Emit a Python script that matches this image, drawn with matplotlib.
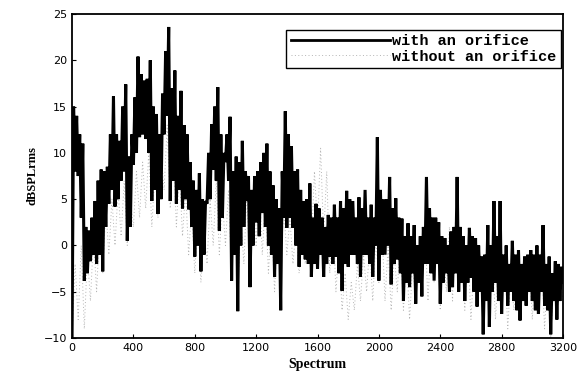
import numpy as np
import matplotlib
matplotlib.use('Agg')
import matplotlib.pyplot as plt

# frequency grid (Hz) for the solid trace, one value every 10 Hz
freq_with = np.arange(0, 3201, 10)
# frequency grid (Hz) for the dotted trace, one value every 20 Hz
freq_without = np.arange(0, 3201, 20)

# with an orifice (dBSPLrms)
with_orifice = [
    -10, 15, 8, 14, 7.5, 12, 3, 11, -3.8, 2, -3, 1.6, -1.7, 3, -1, 4.8,
    -2, 7, -1, 8.2, -2.8, 8, 2, 8.5, 4.5, 12, 6, 16.1, 4.2, 12, 5, 11.3,
    7, 15, 8, 17.4, 0.5, 9.6, 2, 12, 8.7, 16, 10, 20.4, 11.7, 18.5, 12, 17.8,
    11.5, 18, 10, 20, 4.8, 15, 6, 14.2, 3.4, 12, 5, 16.4, 12, 21, 14, 23.6,
    4.8, 17, 7, 18.9, 4.5, 14, 6, 16.7, 4, 13, 5, 12, 3.9, 9, 2, 7,
    -1.2, 6, 0, 7.8, -2.8, 5, -1, 4.8, 4.5, 10, 5, 13.1, 8.2, 15, 7, 17.1,
    1.6, 12, 3, 10, 9, 12, 7, 13.9, -3.8, 8, -1, 9.6, -7.1, 9, 0, 11.3,
    2, 8, 4.8, 7.5, -4.5, 6, 0, 7.5, 2.5, 8, 1, 9, 3.5, 10, 2, 11,
    0, 8, -1, 6.5, -3.4, 5, -2, 4, -7, 8, 3, 14.5, 1.9, 12, 3, 10.7,
    1.9, 8, 0, 8.2, -2.3, 6, -1, 4.8, -1.5, 5, -2, 6.7, -3.4, 3, -2, 4.5,
    -2.5, 4, -1, 3, -3.4, 2, -2, 3.3, -1.2, 3, -2, 4.4, -1.2, 3, -3, 4.8,
    -4.9, 4, -2, 5.9, -2.3, 5, -1, 4.8, -1, 3, -2, 5.2, -3.4, 4, -1, 6,
    -1, 3, -2, 4.4, -3.4, 3, 0, 11.7, -3.8, 6, -1, 5, -1, 5, 0, 7.4,
    -4.2, 4, -2, 5.1, -1.5, 3, -3, 2.9, -6, 1, -4, 2.4, -4.5, 1, -3, 2.2,
    -6.3, 0, -4, 1, -5.5, 2, -2, 7.4, -2, 4, -3, 3, -3.8, 3, -2, 2.5,
    -6.3, 1, -4, 0.8, -3, 0, -5, 1.5, -4.5, 2, -3, 7.4, -5, 2, -4, 1,
    -6, 0, -4, 1.9, -3.5, 1, -5, 0.8, -6.6, 0, -5, -1.2, -9.6, -1, -6, 2.2,
    -8.8, 0, -5, 4.8, -4, 1, -6, 4.8, -7.4, -1, -5, 0, -6.5, -2, -5, 0.5,
    -6, -1, -7, -0.5, -8.1, -2, -6, -1.2, -6.5, -1, -5, -0.5, -6, -1, -7, 0,
    -7.4, -1, -5, 2.2, -6.5, -2, -7, -1.2, -9.6, -3, -6, -1.7, -8, -2, -6, -2.3,
    -4,
]

# without an orifice (dBSPLrms)
without_orifice = [
    -10, -2, -8, 0, -9, -1, -6, 1, -5, 2,
    -3, 4, -1, 5, 0, 6, 1, 7, 0, 5,
    2, 8, 3, 9, 4, 10, 2, 8, 3, 10,
    6, 13, 4, 11, 2, 8, 1, 6, -1, 4,
    -3, 3, -4, 2, -2, 5, 0, 7, -1, 5,
    0, 6, -3, 4, -5, 3, -2, 6, -4, 5,
    0, 7, -1, 5, -3, 3, -5, 2, -2, 4,
    -1, 3, -2, 2, -3, 1, -2, 4, 0, 8,
    2, 10.5, 1, 8, -3, 3, -5, 0, -7, -3,
    -8, -4, -7, -2, -6, -1, -5, 0, -6, 1,
    -4, 2, -6, 0, -7, -1, -5, 1, -7, -1,
    -8, -2, -6, 0, -5, 2, -6, 1, -4, 3,
    -7, 0, -5, 2, -6, 3, -4, 1, -7, 0,
    -8, -2, -6, -1, -9, -3, -7, -1, -8, -2,
    -6, -1, -9, -3, -7, -2, -8, -3, -6, -1,
    -8, -2, -7, -1, -9, -3, -10, -4, -8, -3,
    -6,
]

xticks = [0, 400, 800, 1200, 1600, 2000, 2400, 2800, 3200]
yticks = [-10, -5, 0, 5, 10, 15, 20, 25]

fig = plt.figure(figsize=(5.81, 3.89), dpi=100)
ax = fig.add_axes([0.124, 0.131, 0.845, 0.833])

ax.plot(freq_without, without_orifice, color='#b4b4b4', lw=0.7, ls=(0, (1, 2.5)),
        label='without an orifice')
ax.plot(freq_with, with_orifice, color='black', lw=2.2, solid_joinstyle='miter',
        label='with an orifice')

ax.set_xlim(0, 3200)
ax.set_ylim(-10, 25)
ax.set_xticks(xticks)
ax.set_yticks(yticks)
ax.tick_params(direction='in', length=3, labelsize=8, width=0.8)
for s in ax.spines.values():
    s.set_linewidth(1.3)

ax.set_xlabel('Spectrum', fontfamily='Liberation Serif', fontweight='bold', fontsize=10)
ax.set_ylabel('dBSPLrms', fontfamily='Liberation Serif', fontweight='bold', fontsize=9)

h, l = ax.get_legend_handles_labels()
leg = ax.legend(h[::-1], l[::-1], loc='upper right', bbox_to_anchor=(0.995, 0.952),
                fancybox=False, edgecolor='black', framealpha=1,
                prop={'family': 'Liberation Mono', 'weight': 'bold', 'size': 11},
                handlelength=6.5, handletextpad=0.1, borderpad=0.3, labelspacing=0.1,
                borderaxespad=0)
leg.get_frame().set_linewidth(1.0)
leg.get_lines()[0].set_linewidth(2)

fig.savefig('out.png', dpi=100)
